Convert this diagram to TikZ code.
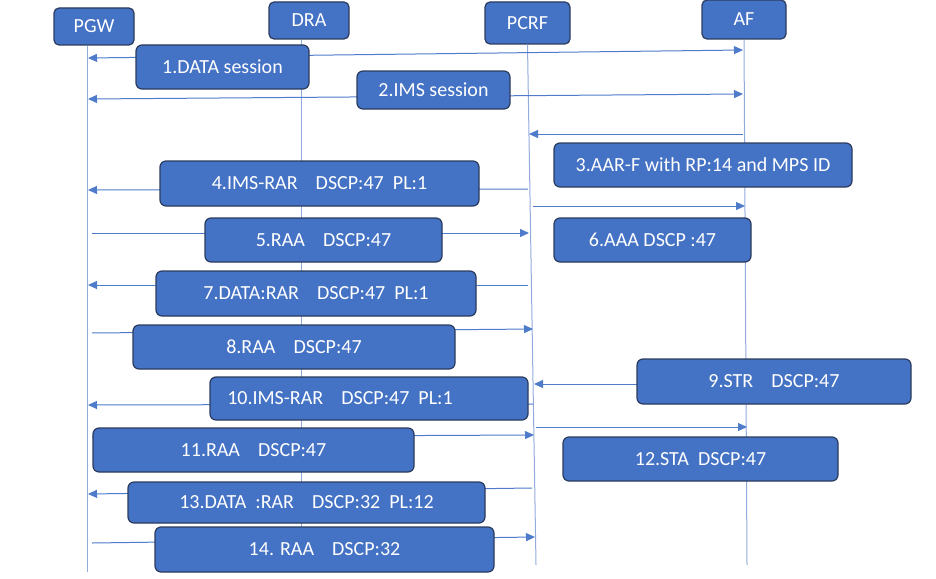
\documentclass[tikz,border=0pt]{standalone}
\usepackage{fontspec}
\setmainfont{Carlito}
\usepackage{tikz}
\usetikzlibrary{arrows.meta}
\definecolor{boxblue}{HTML}{4472C4}
\definecolor{boxedge}{HTML}{2B3B5E}
\definecolor{lineblue}{HTML}{4F7BCB}
\definecolor{lifeblue}{HTML}{92ABDD}
\newcommand{\gp}{~~~~}

\begin{document}
\begin{tikzpicture}[x=1pt, y=-1pt, >={Triangle[length=9pt,width=8pt]},
    actor/.style={draw=boxedge, fill=boxblue, text=white, line width=1.2pt,
      rounded corners=5pt, font=\fontsize{20}{22}\selectfont, inner sep=0pt},
    msgbox/.style={draw=boxedge, fill=boxblue, text=white, line width=1.2pt,
      rounded corners=6pt, font=\fontsize{20}{22}\selectfont, inner sep=0pt},
    life/.style={lifeblue, line width=1pt},
    msg/.style={lineblue, line width=1pt}]
    \useasboundingbox (0,0) rectangle (936,578);
    % the four parties
    \node[actor, minimum width=80pt, minimum height=37pt] (pgw) at (94,26.5) {PGW};
    \node[actor, minimum width=80pt, minimum height=37pt] (dra) at (309,20.5) {DRA};
    \node[actor, minimum width=85pt, minimum height=42pt] (pcrf) at (527.5,23) {PCRF};
    \node[actor, minimum width=84pt, minimum height=39pt] (af) at (744,19.5) {AF};
    % life lines
    \coordinate (pgw-end) at (87,572);
    \coordinate (dra-end) at (301,565);
    \coordinate (pcrf-end) at (536,565);
    \coordinate (af-end) at (747,565);
    \draw[life] (pgw-end |- pgw.south) -- (pgw-end);
    \draw[life] (dra-end |- dra.south) -- (dra-end);
    \draw[life] (pcrf.south) -- (pcrf-end);
    \draw[life] (af.south) -- (af-end);
    % message lines
    \coordinate (m1a) at (88,58);  \coordinate (m1b) at (743,50);
    \coordinate (m2a) at (88,99);  \coordinate (m2b) at (743,94);
    \coordinate (m3a) at (743,134); \coordinate (m3b) at (529,134);
    \coordinate (m4a) at (528,189); \coordinate (m4b) at (88,190);
    \coordinate (m5a) at (92,233);  \coordinate (m5b) at (529,233);
    \coordinate (m6a) at (533,206); \coordinate (m6b) at (745,206);
    \coordinate (m7a) at (528,285); \coordinate (m7b) at (88,285);
    \coordinate (m8a) at (92,333);  \coordinate (m8b) at (533,329);
    \coordinate (m9a) at (746,384); \coordinate (m9b) at (534,384);
    \coordinate (m10a) at (533,404); \coordinate (m10b) at (88,405);
    \coordinate (m11a) at (92,437); \coordinate (m11b) at (534,435);
    \coordinate (m12a) at (536,427); \coordinate (m12b) at (747,427);
    \coordinate (m13a) at (532,488); \coordinate (m13b) at (88,494);
    \coordinate (m14a) at (92,543); \coordinate (m14b) at (535,537);
    \draw[msg,<->] (m1a) -- (m1b);
    \draw[msg,<->] (m2a) -- (m2b);
    \draw[msg,->] (m3a) -- (m3b);
    \draw[msg,->] (m4a) -- (m4b);
    \draw[msg,->] (m5a) -- (m5b);
    \draw[msg,->] (m6a) -- (m6b);
    \draw[msg,->] (m7a) -- (m7b);
    \draw[msg,->] (m8a) -- (m8b);
    \draw[msg,->] (m9a) -- (m9b);
    \draw[msg,->] (m10a) -- (m10b);
    \draw[msg,->] (m11a) -- (m11b);
    \draw[msg,->] (m12a) -- (m12b);
    \draw[msg,->] (m13a) -- (m13b);
    \draw[msg,->] (m14a) -- (m14b);
    % message boxes
    \node[msgbox, minimum width=173pt, minimum height=44pt] (b1) at (222.5,67) {1.DATA session};
    \node[msgbox, minimum width=153pt, minimum height=38pt] (b2) at (433.5,90) {2.IMS session};
    \node[msgbox, minimum width=298pt, minimum height=44pt] (b3) at (703,165) {3.AAR-F with RP:14 and MPS ID};
    \node[msgbox, minimum width=319pt, minimum height=45pt] (b4) at (319.5,183.5) {4.IMS-RAR\gp DSCP:47~~PL:1};
    \node[msgbox, minimum width=237pt, minimum height=44pt] (b5) at (323.5,240) {5.RAA\gp DSCP:47};
    \node[msgbox, minimum width=197pt, minimum height=44pt] (b6) at (652.5,240) {6.AAA DSCP :47};
    \node[msgbox, minimum width=320pt, minimum height=45pt] (b7) at (316,293.5) {7.DATA:RAR\gp DSCP:47~~PL:1};
    \node[msgbox, minimum width=322pt, minimum height=44pt] (b8) at (294,347) {8.RAA\gp DSCP:47};
    \node[msgbox, minimum width=274pt, minimum height=45pt] (b9) at (774,381.5) {9.STR\gp DSCP:47};
    \node[msgbox, minimum width=318pt, minimum height=43pt] (b10) at (369,398.5) {10.IMS-RAR\gp DSCP:47~~PL:1\hspace*{58pt}};
    \node[msgbox, minimum width=321pt, minimum height=44pt] (b11) at (253.5,450) {11.RAA\gp DSCP:47};
    \node[msgbox, minimum width=275pt, minimum height=44pt] (b12) at (700.5,459) {12.STA~~DSCP:47};
    \node[msgbox, minimum width=357pt, minimum height=41pt] (b13) at (306.5,502.5) {13.DATA~~:RAR\gp DSCP:32~~PL:12};
    \node[msgbox, minimum width=339pt, minimum height=45pt] (b14) at (324.5,549.5) {14. RAA\gp DSCP:32};
\end{tikzpicture}
\end{document}
